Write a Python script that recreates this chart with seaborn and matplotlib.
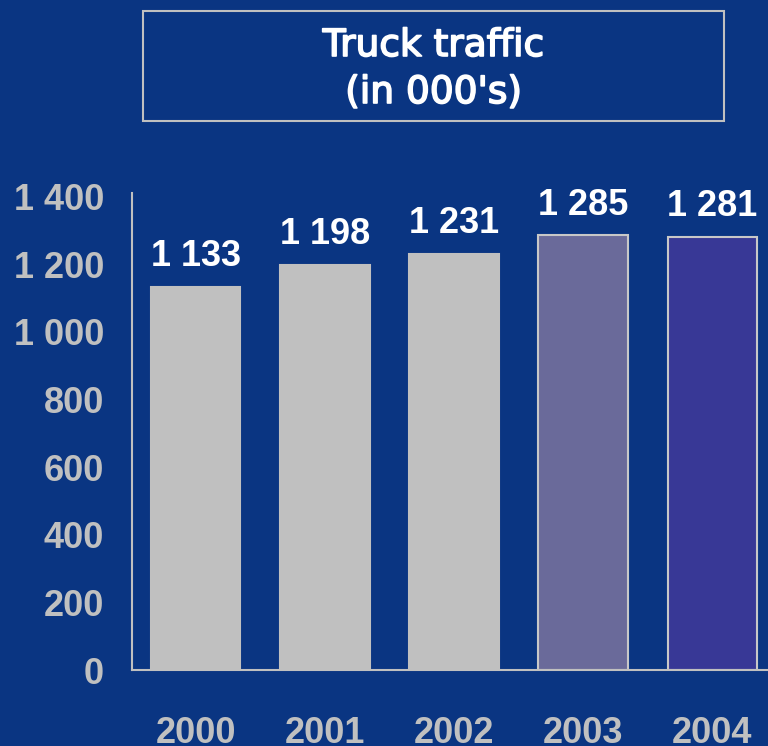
import numpy as np
import pandas as pd
import matplotlib.pyplot as plt
import matplotlib.patches as mpatches
import matplotlib.patheffects as pe
import seaborn as sns

# chart data
years = ["2000", "2001", "2002", "2003", "2004"]
trucks = [1133, 1198, 1231, 1285, 1281]
bar_colors = ["#C0C0C0", "#C0C0C0", "#C0C0C0", "#6A6A9A", "#383896"]
edge_colors = ["#C0C0C0", "#C0C0C0", "#C0C0C0", "#C8C8C8", "#C8C8C8"]
y_ticks = [0, 200, 400, 600, 800, 1000, 1200, 1400]

bg = "#0A3582"
grey = "#C0C0C0"

sns.set_style("white")
plt.rcParams["font.family"] = ["Liberation Sans", "DejaVu Sans"]

df = pd.DataFrame({"year": years, "trucks": trucks})

fig = plt.figure(figsize=(7.68, 7.46), dpi=100, facecolor=bg)
ax = fig.add_axes([132 / 768, 76 / 746, 636 / 768, 477 / 746])
ax.set_facecolor(bg)

sns.barplot(data=df, x="year", y="trucks", hue="year", palette=bar_colors,
            legend=False, width=0.69, saturation=1, ax=ax)

for patch, ec in zip(ax.patches, edge_colors):
    patch.set_edgecolor(ec)
    patch.set_linewidth(1.5)

for cont in ax.containers:
    ax.bar_label(cont, labels=[f"{v.get_height():,.0f}".replace(",", " ") for v in cont],
                 padding=9, color="white", fontsize=26, fontweight="bold")

ax.set_xlim(-0.496, 4.434)
ax.set_ylim(0, 1410)
ax.set_yticks(y_ticks)
ax.set_yticklabels([f"{t:,}".replace(",", " ") for t in y_ticks])
ax.tick_params(axis="y", length=0, pad=20, labelsize=26, labelcolor=grey)
ax.tick_params(axis="x", length=0, pad=33, labelsize=26, labelcolor=grey)
for lbl in ax.get_xticklabels() + ax.get_yticklabels():
    lbl.set_fontweight("bold")
ax.set_xlabel("")
ax.set_ylabel("")

for side in ["top", "right"]:
    ax.spines[side].set_visible(False)
for side in ["left", "bottom"]:
    ax.spines[side].set_color(grey)
    ax.spines[side].set_linewidth(1.5)

# title box
fig.patches.append(mpatches.Rectangle((143 / 768, 625 / 746), 581 / 768, 110 / 746,
                                      transform=fig.transFigure, fill=False,
                                      edgecolor=grey, linewidth=1.5))
thick = [pe.withStroke(linewidth=1.2, foreground="white")]
fig.text(0.5645, 1 - 46 / 746, "Truck traffic", ha="center", va="center",
         color="white", fontsize=27, family="DejaVu Sans", path_effects=thick)
fig.text(0.5645, 1 - 93 / 746, "(in 000's)", ha="center", va="center",
         color="white", fontsize=27, family="DejaVu Sans", path_effects=thick)

fig.savefig("out.png", facecolor=bg)
